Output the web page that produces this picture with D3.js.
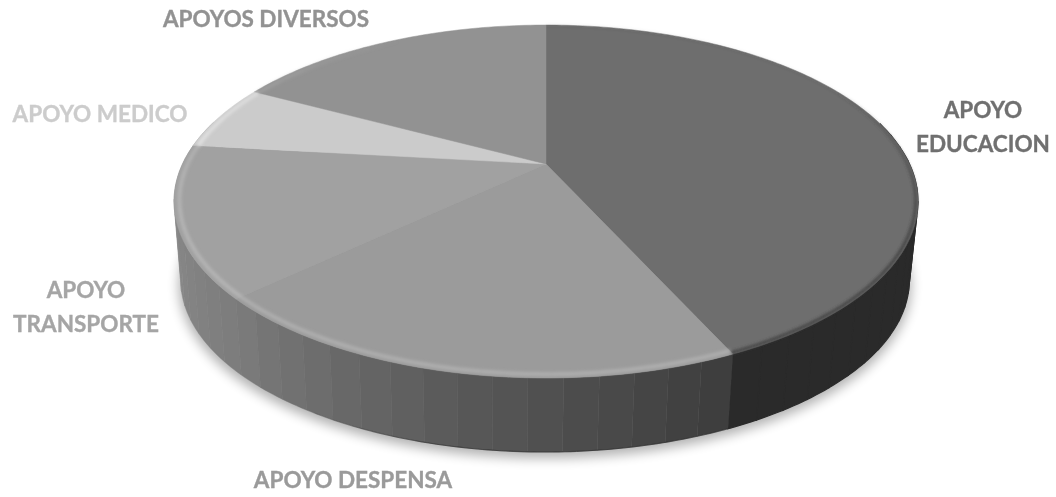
<!DOCTYPE html>
<html>
<head>
<meta charset="utf-8">
<script src="https://cdn.jsdelivr.net/npm/d3@7"></script>
<style>
html, body { margin: 0; padding: 0; background: #fff; }
svg { display: block; }
text { font-family: Lato, "Open Sans", sans-serif; font-weight: 700; font-size: 22.5px; stroke-width: 0.35px; }
</style>
</head>
<body>
<svg id="chart" width="1056" height="497"></svg>
<script>
const categories = ["APOYO EDUCACION", "APOYO DESPENSA", "APOYO TRANSPORTE", "APOYO MEDICO", "APOYOS DIVERSOS"];
const values = [43.2, 19.8, 13.8, 6.0, 17.2];
const labelLines = [["APOYO", "EDUCACION"], ["APOYO DESPENSA"], ["APOYO", "TRANSPORTE"], ["APOYO MEDICO"], ["APOYOS DIVERSOS"]];

const faceColors = ["#6e6e6e", "#9b9b9b", "#a1a1a1", "#cbcbcb", "#929292"];
const labelColors = ["#6f6f6f", "#9a9a9a", "#a5a5a5", "#cccccc", "#929292"];

// label anchors, [centre x, first baseline y]
const labelSpots = [[983, 118], [353, 488], [86, 298], [100, 122], [266, 27]];
const lineGap = 34;

const svg = d3.select("#chart");
const defs = svg.append("defs");

defs.append("filter").attr("id", "shadowBlur")
  .attr("x", "-10%").attr("y", "-10%").attr("width", "120%").attr("height", "120%")
  .append("feGaussianBlur").attr("stdDeviation", 6);

defs.append("filter").attr("id", "bevelBlur")
  .attr("x", "-5%").attr("y", "-5%").attr("width", "110%").attr("height", "110%")
  .append("feGaussianBlur").attr("stdDeviation", 1.7);

defs.append("filter").attr("id", "textBlur")
  .append("feGaussianBlur").attr("stdDeviation", 0.3);

/* PERSPECTIVE OF THE DISC */

const k = 0.2125;
const topPlane = { cx: 546, cy: 164, a: 363.5, b: 168.5 };
const bottomPlane = { cx: 545, cy: 243.5, a: 356, b: 164.2 };

function project(angle, r, plane) {
  const X = r * Math.sin(angle), Y = r * Math.cos(angle), w = 1 + k * Y;
  return [plane.cx + plane.a * X / w, plane.cy - plane.b * Y / w];
}

const rad = d => d * Math.PI / 180;
const line = d3.line();
const slices = d3.pie().sort(null).value(d => d)(values);

function arcPoints(a0, a1, r, plane) {
  const n = Math.max(2, Math.ceil((a1 - a0) / rad(1)));
  return d3.range(n + 1).map(i => project(a0 + (a1 - a0) * i / n, r, plane));
}

/* SHADOW */

svg.append("path")
  .attr("d", line(arcPoints(0, 2 * Math.PI, 1.005, bottomPlane)) + "Z")
  .attr("transform", "translate(0,5)")
  .attr("fill", "#000")
  .attr("opacity", 0.3)
  .attr("filter", "url(#shadowBlur)");

/* SIDE WALL */

const facetStep = rad(4.45);

const wallShade = d3.scaleLinear()
  .domain([slices[1].startAngle, rad(190), slices[1].endAngle, slices[2].endAngle])
  .range(["#3c3c3c", "#585858", "#7c7c7c", "#939393"])
  .clamp(true);

const facets = [];
slices.forEach((s, i) => {
  const n = Math.max(1, Math.round((s.endAngle - s.startAngle) / facetStep));
  d3.range(n).forEach(j => {
    const a0 = s.startAngle + (s.endAngle - s.startAngle) * j / n;
    const a1 = s.startAngle + (s.endAngle - s.startAngle) * (j + 1) / n;
    facets.push({ a0, a1, slice: i });
  });
});

facets.sort((p, q) => Math.cos((q.a0 + q.a1) / 2) - Math.cos((p.a0 + p.a1) / 2) < 0 ? -1 : 1);

const facetColor = f => f.slice === 0 ? "#2a2a2a" : wallShade((f.a0 + f.a1) / 2);

svg.append("g").selectAll("path")
  .data(facets.filter(f => Math.cos((f.a0 + f.a1) / 2) < 0.25))
  .join("path")
  .attr("d", f => {
    const upper = arcPoints(f.a0, f.a1, 1, topPlane);
    const lower = arcPoints(f.a0, f.a1, 1, bottomPlane).reverse();
    return line(upper.concat(lower)) + "Z";
  })
  .attr("fill", facetColor)
  .attr("stroke", facetColor)
  // the education wall is one flat colour, so close its seams
  .attr("stroke-width", f => f.slice === 0 ? 1.2 : 0.4);

// dark line along the foot of the wall
const footOpacity = d3.scaleLinear()
  .domain([rad(155), rad(175), rad(195), rad(215)])
  .range([0.5, 0.7, 0.6, 0])
  .clamp(true);

d3.range(155, 215, 3).forEach(d => {
  svg.append("path")
    .attr("d", line(arcPoints(rad(d), rad(d + 3), 1, bottomPlane)))
    .attr("fill", "none")
    .attr("stroke", "#2c2c2c")
    .attr("stroke-width", 1.1)
    .attr("opacity", footOpacity(rad(d + 1.5)));
});

/* TOP FACE */

const facePath = s => line([[topPlane.cx, topPlane.cy]].concat(arcPoints(s.startAngle, s.endAngle, 1, topPlane))) + "Z";

svg.append("g").selectAll("path")
  .data(slices)
  .join("path")
  .attr("d", facePath)
  .attr("fill", (d, i) => faceColors[i])
  .attr("stroke", (d, i) => faceColors[i])
  .attr("stroke-width", 0.5);

/* BEVEL ROUND THE RIM */

const bevelOpacity = d3.scaleLinear()
  .domain([rad(60), rad(110), rad(250), rad(300), rad(330)])
  .range([0, 1, 1, 0.6, 0])
  .clamp(true);

const bevel = svg.append("g").attr("filter", "url(#bevelBlur)");

slices.forEach((s, i) => {
  const n = Math.ceil((s.endAngle - s.startAngle) / rad(3));
  d3.range(n).forEach(j => {
    const a0 = s.startAngle + (s.endAngle - s.startAngle) * j / n;
    const a1 = s.startAngle + (s.endAngle - s.startAngle) * (j + 1) / n;
    const mid = (a0 + a1) / 2;
    const light = i === 0 ? "#3a3a3a" : d3.color(faceColors[i]).brighter(0.32).formatHex();
    bevel.append("path")
      .attr("d", line(arcPoints(a0, a1, i === 0 ? 0.994 : 0.986, topPlane)))
      .attr("fill", "none")
      .attr("stroke", light)
      .attr("stroke-width", i === 0 ? 3 : 4)
      .attr("stroke-opacity", i === 0 ? 0.75 * bevelOpacity(mid) + 0.05 : bevelOpacity(mid));
  });
});

/* LABELS */

svg.append("g").selectAll("text")
  .data(labelLines)
  .join("text")
  .attr("text-anchor", "middle")
  .attr("fill", (d, i) => labelColors[i])
  .attr("stroke", (d, i) => labelColors[i])
  .attr("filter", "url(#textBlur)")
  .attr("aria-label", (d, i) => categories[i])
  .each(function(lines, i) {
    d3.select(this).selectAll("tspan")
      .data(lines)
      .join("tspan")
      .attr("x", labelSpots[i][0])
      .attr("y", (t, j) => labelSpots[i][1] + j * lineGap)
      .text(t => t);
  });
</script>
</body>
</html>
